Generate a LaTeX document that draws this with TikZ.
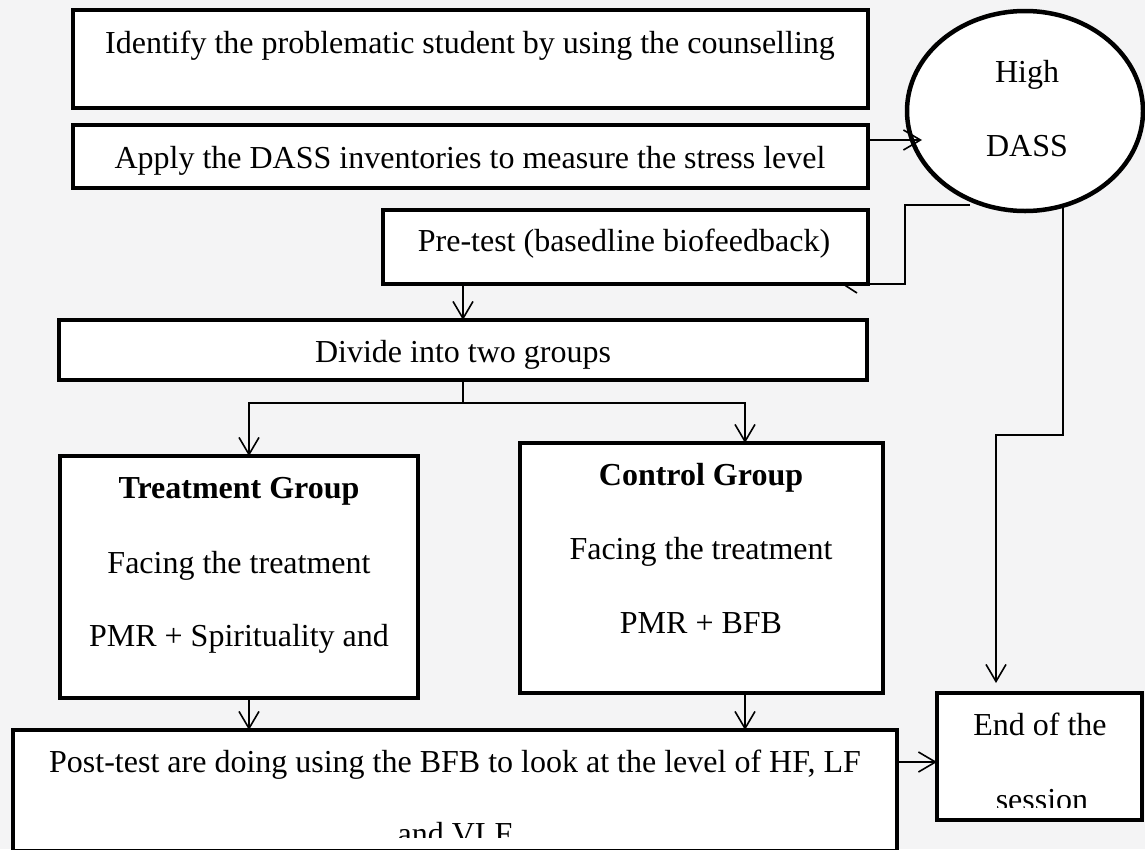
\documentclass[tikz,border=0pt]{standalone}
\usepackage{fontspec}
\setmainfont{Liberation Serif}
\usetikzlibrary{arrows.meta,shapes.geometric}
\definecolor{bgc}{RGB}{244,244,245}
\begin{document}
\begin{tikzpicture}[x=1pt,y=-1pt,
  box/.style={draw=black, fill=white, line width=4.5pt, rectangle, inner sep=0pt, outer sep=0pt, anchor=north west},
  txt/.style={inner sep=0pt, text height=21pt, text depth=0pt, font=\fontsize{32}{38}\selectfont},
  conn/.style={line width=1.6pt, draw=black},
  arr/.style={conn, -{Straight Barb[length=17pt,width=20pt]}},
]
\fill[bgc] (0,0) rectangle (1145,849);
\useasboundingbox (0,0) rectangle (1145,849);

% boxes
\node[box, minimum width=795pt, minimum height=98pt] (identify) at (73,10) {};
\node[box, minimum width=795pt, minimum height=63pt] (apply) at (73,125) {};
\node[box, minimum width=485pt, minimum height=74pt] (pretest) at (383,210) {};
\node[box, minimum width=808pt, minimum height=60pt] (divide) at (59,320) {};
\node[box, minimum width=358pt, minimum height=242pt] (treat) at (60,456) {};
\node[box, minimum width=363pt, minimum height=250pt] (control) at (520,443) {};
\node[box, minimum width=884pt, minimum height=121pt] (post) at (13,730) {};
\node[box, minimum width=205pt, minimum height=127pt] (endbox) at (937,693) {};
\node[draw=black, fill=white, line width=4.5pt, ellipse, inner sep=0pt, outer sep=0pt,
      minimum width=236pt, minimum height=200pt] (dass) at (1025,111) {};

% texts
\node[txt] (tIdentify) at (470,43) {Identify the problematic student by using the counselling};
\node[txt] (tApply) at (470,157.5) {Apply the DASS inventories to measure the stress level};
\node[txt] (tPre) at (624,241) {Pre-test (basedline biofeedback)};
\node[txt] (tDivide) at (463,352) {Divide into two groups};
\node[txt] (tTreat1) at (239,488) {\textbf{Treatment Group}};
\node[txt] (tTreat2) at (239,563) {Facing the treatment};
\node[txt] (tTreat3) at (239,636) {PMR + Spirituality and};
\node[txt] (tCtrl1) at (701,475) {\textbf{Control Group}};
\node[txt] (tCtrl2) at (701,549) {Facing the treatment};
\node[txt] (tCtrl3) at (701,622.5) {PMR + BFB};
\node[txt] (tPost1) at (455,762) {Post-test are doing using the BFB to look at the level of HF, LF};
\begin{scope}
  \clip (13,730) rectangle (897,837);
  \node[txt] (tPost2) at (455,833.5) {and VLF};
\end{scope}
\node[txt] (tEnd1) at (1040,724.5) {End of the};
\begin{scope}
  \clip (937,693) rectangle (1142,807);
  \node[txt] (tEnd2) at (1042,800) {session};
\end{scope}
\node[txt] (tHigh) at (1027,72) {High};
\node[txt] (tDass) at (1027,146) {DASS};

% helper coordinates
\coordinate (ta) at (249,0);
\coordinate (ca) at (745,0);
\coordinate (br) at (463,403);
\coordinate (y762) at (0,762);
\coordinate (y140) at (0,140);
\coordinate (dassin) at (922,140);
\coordinate (lp1) at (970,205);
\coordinate (lp2) at (905,284);
\coordinate (tk1) at (843,284);
\coordinate (tk2) at (857,293);
\coordinate (ds) at (1063,207);
\coordinate (k1) at (1063,435);
\coordinate (k2) at (996,683);

% connectors
\draw[arr] (apply.east |- y140) -- (dassin);
\draw[conn] (lp1) -| (lp2) -- (pretest.east |- lp2);
\draw[conn] (tk1) -- (tk2);
\draw[arr] (pretest.south -| divide.north) -- (divide.north);
\draw[conn] (divide.south) -- (br);
\draw[arr] (br) -| (treat.north -| ta);
\draw[arr] (br) -| (control.north -| ca);
\draw[arr] (treat.south -| ta) -- (post.north -| ta);
\draw[arr] (control.south -| ca) -- (post.north -| ca);
\draw[arr] (post.east |- y762) -- (endbox.west |- y762);
\draw[arr] (ds) -- (k1) -| (k2);
\end{tikzpicture}
\end{document}
